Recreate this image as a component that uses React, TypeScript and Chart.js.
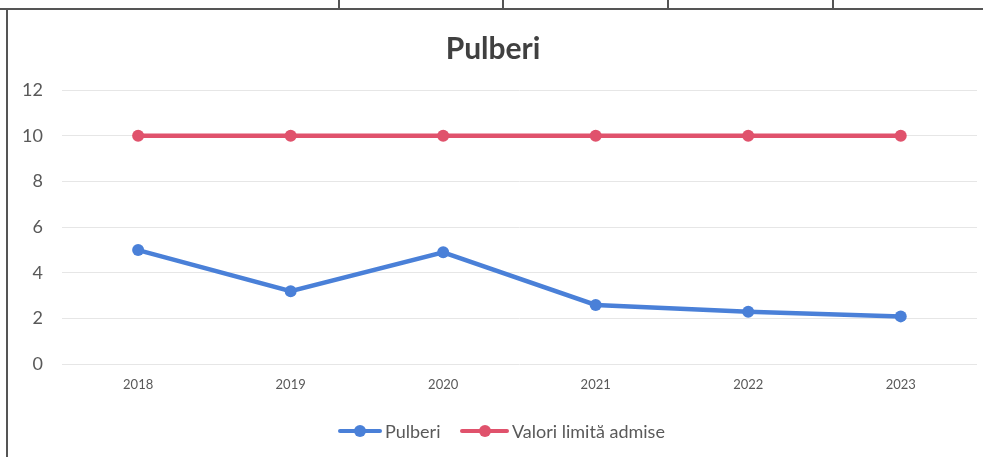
import React, { useEffect, useRef } from "react";
import { Chart, registerables } from "chart.js";

Chart.register(...registerables);

const years = ["2018", "2019", "2020", "2021", "2022", "2023"];
const pulberi = [5.0, 3.2, 4.9, 2.6, 2.3, 2.1];
const limite = [10, 10, 10, 10, 10, 10];
const yTicks = [0, 2, 4, 6, 8, 10, 12];
const seriesNames = ["Pulberi", "Valori limită admise"];

const BLUE = "#4A80D8";
const RED = "#E0526C";
const TEXT = "#595959";
const FONT = "Lato, 'Open Sans', sans-serif";

function LegendItem({ color, label, left, lineW }: { color: string; label: string; left: number; lineW: number }) {
  return (
    <div style={{ position: "absolute", left, top: 419, height: 24, display: "flex", alignItems: "center" }}>
      <div style={{ position: "relative", width: lineW, height: 12, marginRight: 3 }}>
        <div style={{ position: "absolute", left: 0, top: 4, width: lineW, height: 4, background: color, borderRadius: 2 }} />
        <div style={{ position: "absolute", left: lineW / 2 - 6, top: 0, width: 12, height: 12, background: color, borderRadius: 6 }} />
      </div>
      <span style={{ fontFamily: FONT, fontSize: 18, color: TEXT, lineHeight: "24px", whiteSpace: "nowrap" }}>{label}</span>
    </div>
  );
}

export default function App() {
  const ref = useRef<HTMLCanvasElement | null>(null);
  useEffect(() => {
    if (!ref.current) return;
    const chart = new Chart(ref.current, {
      type: "line",
      data: {
        labels: years,
        datasets: [
          {
            label: seriesNames[0],
            data: pulberi,
            borderColor: BLUE,
            backgroundColor: BLUE,
            borderWidth: 4.5,
            pointRadius: 6,
            pointBackgroundColor: BLUE,
            pointBorderWidth: 0,
          },
          {
            label: seriesNames[1],
            data: limite,
            borderColor: RED,
            backgroundColor: RED,
            borderWidth: 4.5,
            pointRadius: 6,
            pointBackgroundColor: RED,
            pointBorderWidth: 0,
          },
        ],
      },
      options: {
        animation: false,
        responsive: false,
        layout: { padding: { left: 3, right: 0, top: 18, bottom: 51 } },
        plugins: {
          title: {
            display: true,
            text: "Pulberi",
            color: "#404040",
            font: { family: FONT, size: 30, weight: "bold" },
            padding: { top: 13, bottom: 23 },
          },
          legend: { display: false },
          tooltip: { enabled: false },
        },
        scales: {
          x: {
            offset: true,
            grid: { display: false, drawTicks: false },
            border: { display: false },
            ticks: { color: TEXT, font: { family: FONT, size: 13 }, padding: 13 },
          },
          y: {
            min: 0,
            max: 12,
            afterBuildTicks: (axis: any) => {
              axis.ticks = yTicks.map((v) => ({ value: v }));
            },
            grid: { color: "#e6e6e6", drawTicks: false, lineWidth: 1 },
            border: { display: false },
            ticks: { color: TEXT, font: { family: FONT, size: 18 }, padding: 19 },
          },
        },
      },
    });
    return () => chart.destroy();
  }, []);

  const seps = [338, 502, 667, 832];
  return (
    <div style={{ position: "absolute", left: 0, top: 0, width: 983, height: 457, background: "#fff", overflow: "hidden" }}>
      <div style={{ position: "absolute", left: 0, top: 8, width: 983, height: 2, background: "#555" }} />
      {seps.map((x) => (
        <div key={x} style={{ position: "absolute", left: x, top: 0, width: 2, height: 9, background: "#555" }} />
      ))}
      <div style={{ position: "absolute", left: 6, top: 8, width: 2, height: 449, background: "#555" }} />
      <canvas ref={ref} width={983} height={457} style={{ position: "absolute", left: 0, top: 0 }} />
      <LegendItem color={BLUE} label={seriesNames[0]} left={338} lineW={44} />
      <LegendItem color={RED} label={seriesNames[1]} left={460} lineW={49} />
    </div>
  );
}
